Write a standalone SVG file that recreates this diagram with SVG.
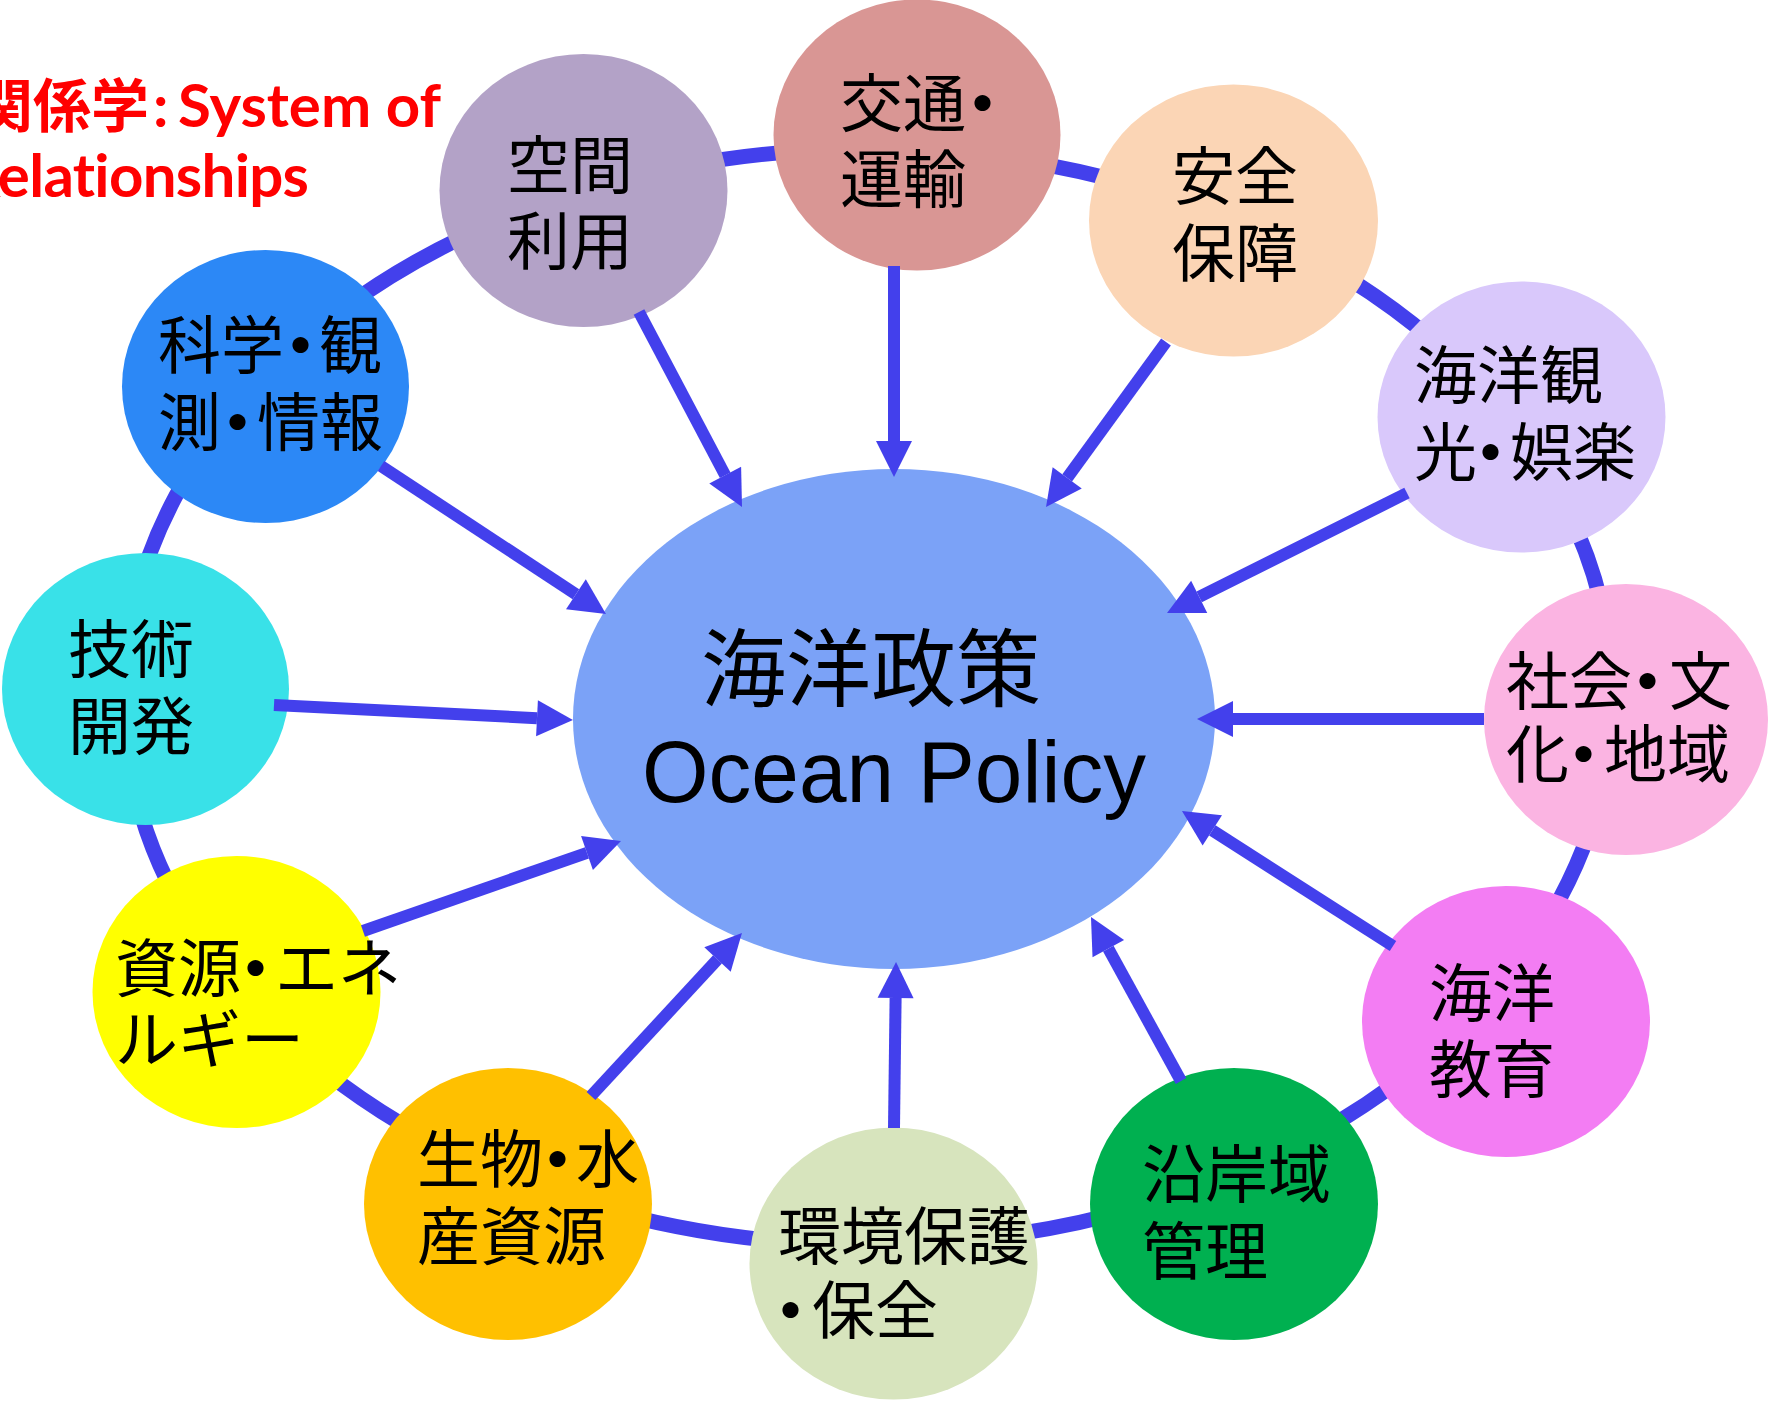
<svg xmlns="http://www.w3.org/2000/svg" width="1768" height="1404" viewBox="0 0 1768 1404">
<style>
.nt{font-family:"Noto Sans CJK JP","Noto Sans CJK SC",sans-serif;font-size:63px;fill:#000}
.d{font-weight:700}
.ring{fill:none;stroke:#4340EC;stroke-width:15}
.arr{fill:none;stroke:#4340EC;stroke-width:12;marker-end:url(#ah)}
.title{fill:#FF0000;font-weight:700;font-variant-ligatures:none}
</style>
<defs>
<marker id="ah" markerUnits="userSpaceOnUse" markerWidth="36" markerHeight="36" refX="0" refY="18" orient="auto" overflow="visible">
<path d="M0,0 L36,18 L0,36 Z" fill="#4340EC"/>
</marker>
</defs>
<rect width="1768" height="1404" fill="#FFFFFF"/>

<g id="title">
<text class="title" y="127"><tspan x="-25" font-family="Noto Sans CJK JP,sans-serif" font-size="58">関係学</tspan><tspan x="153" font-family="Lato,sans-serif" font-size="60">:</tspan><tspan x="178" font-family="Lato,sans-serif" font-size="60">System of</tspan></text>
<text class="title" x="-38" y="197" font-family="Lato,sans-serif" font-size="60" letter-spacing="-0.7">Relationships</text>
</g>

<g id="ring">
<ellipse class="ring" cx="868" cy="697" rx="744" ry="548"/>
</g>

<g id="node-center">
<ellipse cx="894" cy="719" rx="321" ry="250" fill="#7BA2F7"/>
<text x="701" y="700" font-family="Noto Sans CJK JP,sans-serif" font-size="85" fill="#000">海洋政策</text>
<text x="894" y="802" text-anchor="middle" font-family="Liberation Sans,Arial,sans-serif" font-size="88" textLength="504" lengthAdjust="spacingAndGlyphs" fill="#000">Ocean Policy</text>
</g>

<g id="node-kukan">
<ellipse cx="583.5" cy="190.5" rx="144" ry="136.5" fill="#B3A2C7"/>
<text class="nt" x="507" y="188">空間</text>
<text class="nt" x="507" y="264">利用</text>
</g>
<g id="node-kotsu">
<ellipse cx="917" cy="135" rx="143.5" ry="135.5" fill="#D99694"/>
<text class="nt" x="840" y="126">交通<tspan class="d" dx="-15">・</tspan></text>
<text class="nt" x="840" y="202">運輸</text>
</g>
<g id="node-anzen">
<ellipse cx="1233.5" cy="220.5" rx="144.5" ry="136" fill="#FBD5B5"/>
<text class="nt" x="1172" y="199">安全</text>
<text class="nt" x="1172" y="276">保障</text>
</g>
<g id="node-kanko">
<ellipse cx="1521.5" cy="417" rx="144" ry="135.5" fill="#D9C8FB"/>
<text class="nt" x="1414" y="398">海洋観</text>
<text class="nt" x="1414" y="475">光<tspan class="d" dx="-18">・</tspan><tspan dx="-12">娯楽</tspan></text>
</g>
<g id="node-shakai">
<ellipse cx="1626" cy="719.5" rx="142" ry="135.5" fill="#FBB4E2"/>
<text class="nt" x="1506" y="704">社会<tspan class="d" dx="-16">・</tspan><tspan dx="-10">文</tspan></text>
<text class="nt" x="1506" y="777">化<tspan class="d" dx="-17">・</tspan><tspan dx="-11">地域</tspan></text>
</g>
<g id="node-kyoiku">
<ellipse cx="1506" cy="1021.5" rx="144" ry="135.5" fill="#F37DF3"/>
<text class="nt" x="1429" y="1016">海洋</text>
<text class="nt" x="1429" y="1092">教育</text>
</g>
<g id="node-engan">
<ellipse cx="1234" cy="1204" rx="144" ry="136" fill="#00B050"/>
<text class="nt" x="1142" y="1197">沿岸域</text>
<text class="nt" x="1142" y="1274">管理</text>
</g>
<g id="node-kankyo">
<ellipse cx="893.5" cy="1263.5" rx="144" ry="136" fill="#D7E4BD"/>
<text class="nt" x="778" y="1259">環境保護</text>
<text class="nt" x="778" y="1333"><tspan class="d" dx="-19">・</tspan><tspan dx="-10">保全</tspan></text>
</g>
<g id="node-seibutsu">
<ellipse cx="508" cy="1204" rx="144" ry="136" fill="#FFC000"/>
<text class="nt" x="417" y="1182">生物<tspan class="d" dx="-17">・</tspan><tspan dx="-13">水</tspan></text>
<text class="nt" x="417" y="1259">産資源</text>
</g>
<g id="node-shigen">
<ellipse cx="236.5" cy="992" rx="144" ry="136" fill="#FFFF00"/>
<text class="nt" x="115" y="991">資源<tspan class="d" dx="-17">・</tspan><tspan dx="-12">エネ</tspan></text>
<text class="nt" x="115" y="1062">ルギー</text>
</g>
<g id="node-gijutsu">
<ellipse cx="145.5" cy="689" rx="143.5" ry="136" fill="#39E1E8"/>
<text class="nt" x="68" y="672">技術</text>
<text class="nt" x="68" y="749">開発</text>
</g>
<g id="node-kagaku">
<ellipse cx="265.5" cy="386.5" rx="143.5" ry="136.5" fill="#2C88F6"/>
<text class="nt" x="158" y="368">科学<tspan class="d" dx="-15">・</tspan><tspan dx="-13">観</tspan></text>
<text class="nt" x="158" y="445">測<tspan class="d" dx="-15">・</tspan><tspan dx="-12">情報</tspan></text>
</g>

<g id="connectors">
<path class="arr" d="M639,312 L725.2,475.2"/>
<path class="arr" d="M894,266 L894,441"/>
<path class="arr" d="M1166,342 L1067.2,477.9"/>
<path class="arr" d="M1407,493 L1199.2,596.9"/>
<path class="arr" d="M1484,719 L1233,719"/>
<path class="arr" d="M1393,946 L1212.3,830.4"/>
<path class="arr" d="M1181,1081 L1108.3,948.6"/>
<path class="arr" d="M894,1128 L895.6,998"/>
<path class="arr" d="M591,1096 L717.5,959.4"/>
<path class="arr" d="M363,931 L587,852.9"/>
<path class="arr" d="M274,705 L537,718.2"/>
<path class="arr" d="M381,466 L575.9,594.2"/>
</g>
</svg>
